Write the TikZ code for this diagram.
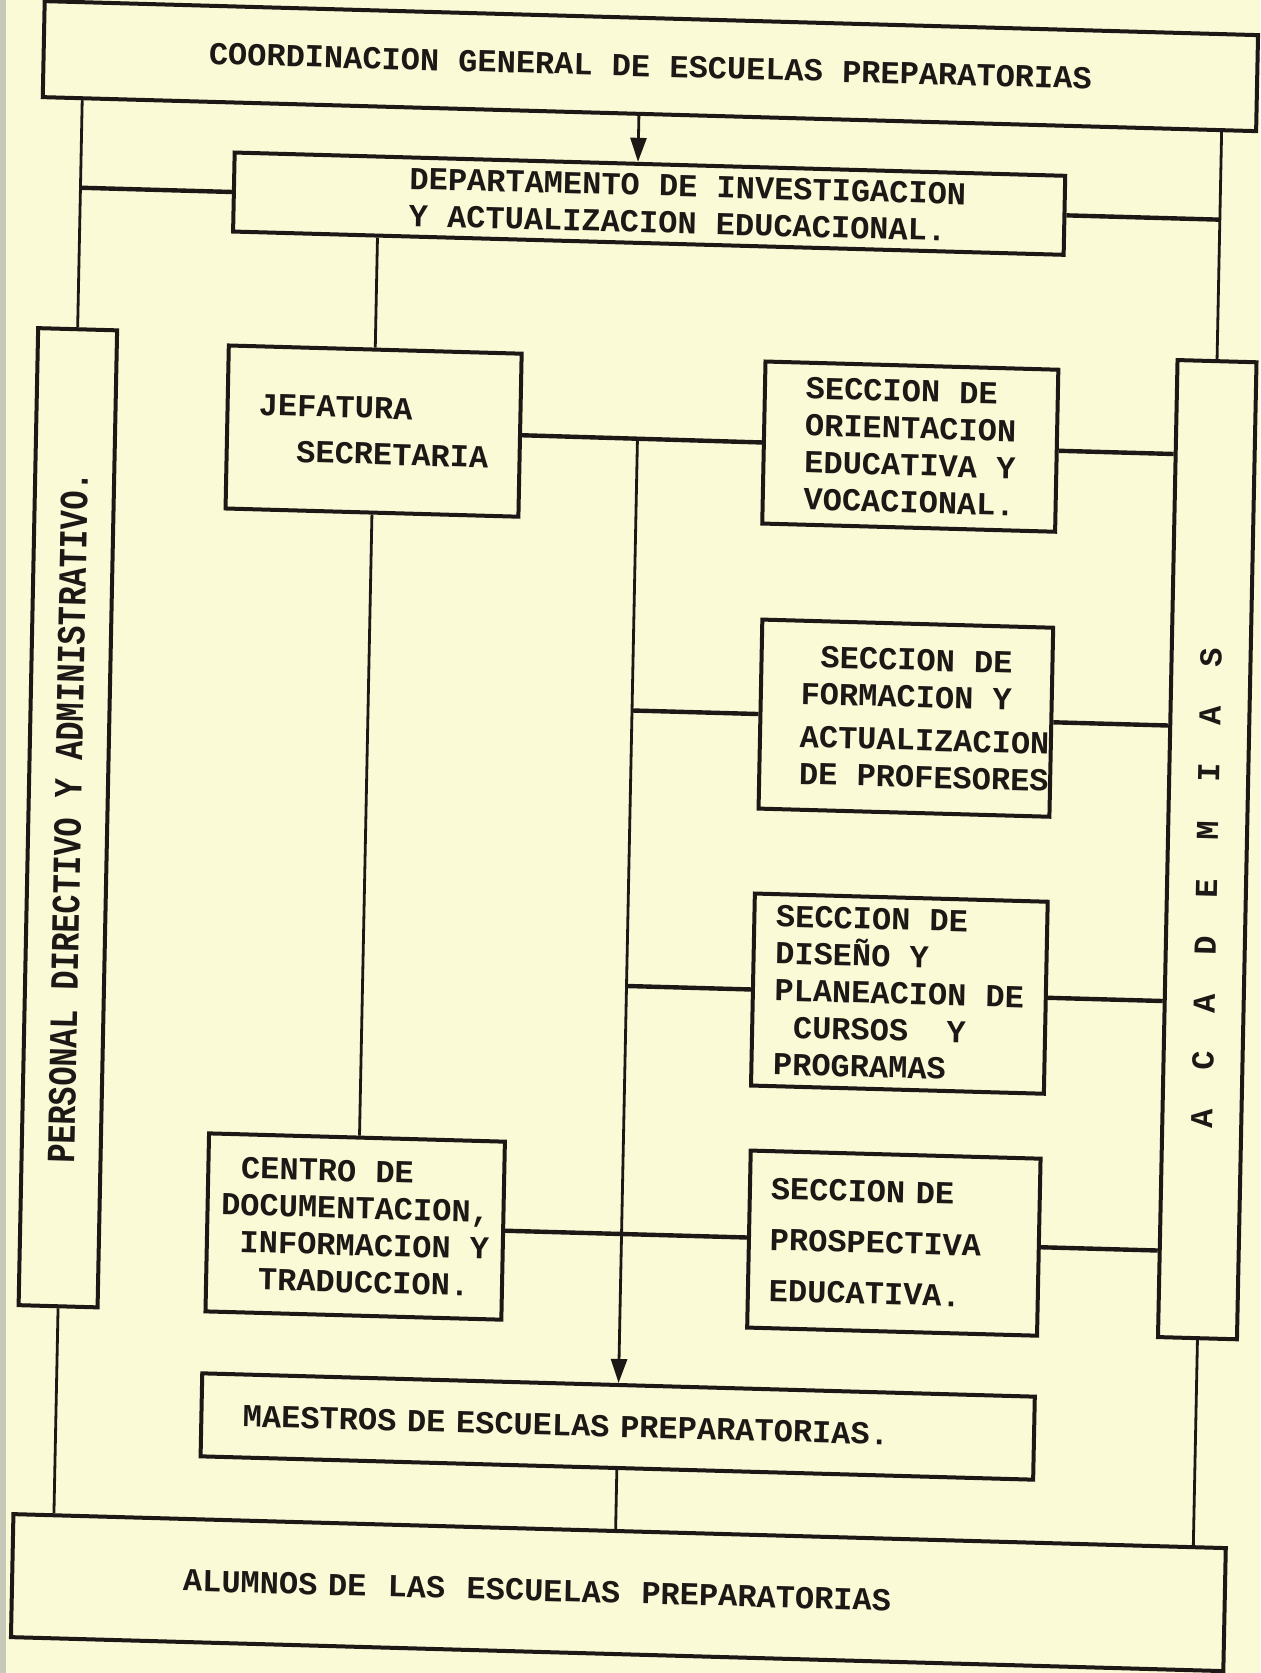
\documentclass[tikz,border=0pt]{standalone}
\usepackage{fontspec}
\usepackage{graphicx}
\usetikzlibrary{arrows.meta}

\newfontfamily\maquina{Liberation Mono}
\newfontfamily\estrecha{Liberation Mono}[FakeStretch=0.8]
\newcommand{\esp}[1]{\hspace*{#1\dimexpr0.6em\relax}}

\definecolor{papel}{RGB}{251,250,214}
\definecolor{tinta}{RGB}{28,24,22}
\definecolor{rand}{RGB}{200,200,184}

\tikzset{
    caja/.style={draw=tinta, text=tinta, line width=2pt, inner sep=0pt, align=left,
        font=\maquina\bfseries\fontsize{16}{18.5}\selectfont},
    trazo/.style={draw=tinta, line width=1.4pt},
    barra/.style={draw=tinta, line width=2.2pt},
    flecha/.style={-{Triangle[length=12pt,width=8pt]}}
}

\begin{document}
\begin{tikzpicture}[x=0.5pt, y=0.5pt]

        \path[use as bounding box, fill=papel] (0,0) rectangle (1260,-1673);
        \fill[rand] (0,0) rectangle (6,-1673);

        % Blatt leicht schief gescannt
        \begin{scope}[transform canvas={shift={(315pt,-418pt)}, xslant=0.02, yslant=-0.028, shift={(-315pt,418pt)}}]

        % Kaesten
        \node[caja, minimum width=607pt, minimum height=48pt] (coord) at (635,-66) {COORDINACION GENERAL DE ESCUELAS PREPARATORIAS};
        \node[caja, minimum width=415.5pt, minimum height=39.5pt] (diae) at (636.5,-203.5) {\esp{4}DEPARTAMENTO DE INVESTIGACION\\\esp{4}Y ACTUALIZACION EDUCACIONAL.};
        \node[caja, minimum width=39.5pt, minimum height=488.5pt] (pers) at (67.5,-833.5) {\rotatebox{90}{\estrecha\bfseries\fontsize{20}{20}\selectfont PERSONAL DIRECTIVO Y ADMINISTRATIVO.}};
        \node[caja, minimum width=39.5pt, minimum height=488.5pt] (acad) at (1207.5,-833.5) {\rotatebox{90}{A~~C~~A~~D~~E~~M~~I~~A~~S~~~~}};
        \node[caja, minimum width=146.5pt, minimum height=81.5pt] (jef) at (365.5,-438.5) {JEFATURA\\[4.5pt]\esp{2}SECRETARIA};
        \node[caja, minimum width=146.5pt, minimum height=81pt] (orient) at (902.5,-439) {SECCION DE\\ORIENTACION\\EDUCATIVA Y\\VOCACIONAL.};
        \node[caja, minimum width=145.5pt, minimum height=94.5pt] (form) at (903.5,-710.5) {\esp{3}SECCION DE\\\esp{2}FORMACION Y\\[3pt]\esp{2}ACTUALIZACION\\\esp{2}DE PROFESORES};
        \node[caja, minimum width=146.5pt, minimum height=96pt] (dis) at (902.5,-986) {SECCION DE\\DISEÑO Y\\PLANEACION DE\\\esp{1}CURSOS~~Y\\PROGRAMAS};
        \node[caja, minimum width=145pt, minimum height=88.5pt, text width=124pt] (prosp) at (902,-1235.5) {SECCION DE\\[7pt]PROSPECTIVA\\[7pt]EDUCATIVA.};
        \node[caja, minimum width=148pt, minimum height=89pt] (centro) at (363,-1234) {\esp{1}CENTRO DE\\DOCUMENTACION,\\\esp{1}INFORMACION Y\\\esp{2}TRADUCCION.};
        \node[caja, minimum width=416.5pt, minimum height=41.5pt, text width=375pt] (maest) at (629.5,-1426.5) {MAESTROS DE ESCUELAS PREPARATORIAS.};
        \node[caja, minimum width=606.5pt, minimum height=61.5pt, text width=435.5pt] (alum) at (633.5,-1592.5) {ALUMNOS DE~~LAS~~ESCUELAS~~PREPARATORIAS};

        % Verbindungen
        \coordinate (bajada) at ([xshift=-6pt]diae.north);
        \draw[trazo, flecha] (bajada |- coord.south) -- (bajada);
        \draw[trazo] (coord.south -| pers.north) -- (pers.north);
        \draw[trazo] (coord.south -| acad.north) -- (acad.north);
        \draw[barra] (diae.west) -- (diae.west -| pers.north);
        \draw[barra] (diae.east) -- (diae.east -| acad.north);
        \draw[trazo] (diae.south -| jef.north) -- (jef.north);
        \draw[barra] (jef.east) -- (orient.west);
        \draw[trazo] (jef.south) -- (jef.south |- centro.north);
        \draw[trazo, flecha] (jef.east -| maest.north) -- (maest.north);
        \draw[barra] (form.west -| maest.north) -- (form.west);
        \draw[barra] (dis.west -| maest.north) -- (dis.west);
        \draw[barra] (centro.east) -- (centro.east -| prosp.west);
        \draw[barra] (orient.east) -- (orient.east -| acad.west);
        \draw[barra] (form.east) -- (form.east -| acad.west);
        \draw[barra] (dis.east) -- (dis.east -| acad.west);
        \draw[barra] (prosp.east) -- (prosp.east -| acad.west);
        \draw[trazo] (maest.south) -- (maest.south |- alum.north);
        \draw[trazo] (pers.south) -- (pers.south |- alum.north);
        \draw[trazo] (acad.south) -- (acad.south |- alum.north);

        \end{scope}

\end{tikzpicture}
\end{document}
